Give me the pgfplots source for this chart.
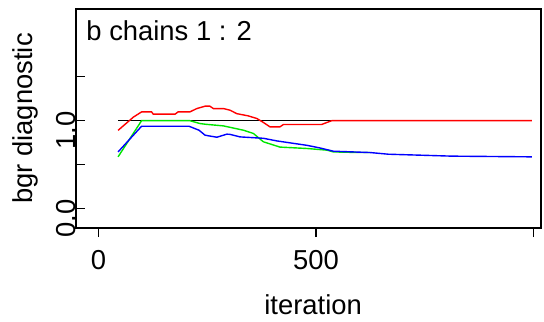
\documentclass[border=0pt]{standalone}
\usepackage{fontspec}
\setmainfont{Liberation Sans}
\usepackage{pgfplots}
\pgfplotsset{compat=1.18}
\definecolor{bgrgreen}{RGB}{0,230,0}
\begin{document}
\begin{tikzpicture}[font=\fontsize{27.5}{33}\selectfont]
\path[use as bounding box] (-76bp,-94bp) rectangle (468bp,228bp);
\begin{axis}[
  at={(0,0)}, anchor=south west,
  scale only axis, width=465bp, height=219bp,
  xmin=-51.7, xmax=1017, ymin=-0.22, ymax=2.27,
  axis line style={line width=1.2bp},
  xtick={0,500,1000}, xticklabels={0,500,},
  ytick={0,0.5,1,1.5}, yticklabels={0.0,,1.0,},
  tick pos=left,
  xtick align=outside, ytick align=inside,
  major tick length=9bp,
  every tick/.style={black, line width=1.2bp},
  /pgf/number format/assume math mode=true,
  xticklabel style={anchor=north, inner sep=0pt, yshift=-13bp},
  yticklabel style={rotate=90, anchor=south, inner sep=0pt, xshift=-10bp},
  every axis x label/.style={at={(axis description cs:0.51,-0.352)}, anchor=center},
  every axis y label/.style={at={(axis description cs:-0.108,0.5)}, rotate=90, anchor=center},
  xlabel={iteration}, ylabel={bgr diagnostic},
  clip=true,
]
\addplot[black, line width=1.4bp] coordinates {(45,1.0) (996,1.0)};
\addplot[bgrgreen, line width=1.4bp] coordinates {
(45,0.589) (99,1.0) (210,1.0) (233,0.968) (245,0.96) (287,0.941) (302,0.925)
(333,0.892) (356,0.855) (379,0.76) (417,0.70) (479,0.684) (525,0.665)
(540,0.645) (600,0.638) (624,0.638)};
\addplot[blue, line width=1.4bp] coordinates {
(45,0.645) (99,0.937) (208,0.937) (231,0.892) (245,0.835) (272,0.812)
(295,0.847) (302,0.845) (325,0.816) (379,0.80) (410,0.77) (479,0.72)
(509,0.69) (540,0.653) (624,0.638) (666,0.619) (812,0.597) (996,0.589)};
\addplot[red, line width=1.4bp] coordinates {
(45,0.89) (80,1.04) (99,1.10) (122,1.10) (126,1.074) (176,1.074) (183,1.10)
(210,1.10) (226,1.138) (245,1.165) (256,1.165) (264,1.138) (287,1.138)
(302,1.12) (318,1.08) (344,1.055) (364,1.025) (379,0.98) (394,0.93)
(417,0.93) (425,0.957) (513,0.957) (525,0.98) (536,1.0) (996,1.0)};
\node[anchor=north west, inner sep=0pt] at (rel axis cs:0.022,0.95) {b chains 1 : 2};
\end{axis}
\end{tikzpicture}
\end{document}
